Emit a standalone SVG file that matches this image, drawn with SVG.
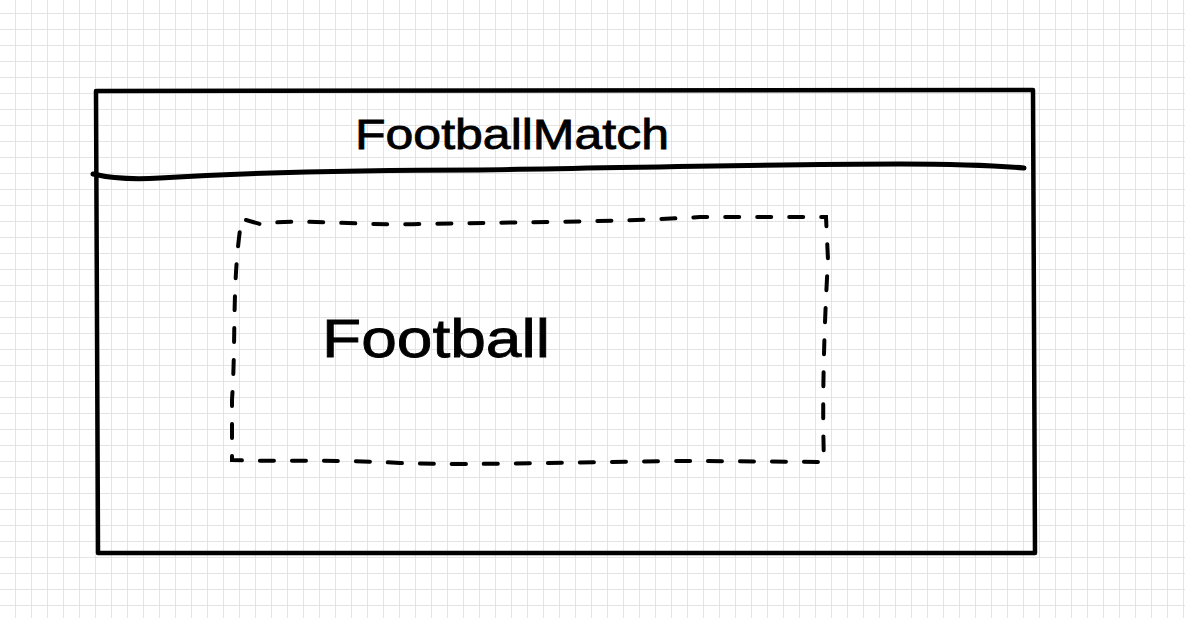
<svg xmlns="http://www.w3.org/2000/svg" width="1185" height="618" viewBox="0 0 1185 618">
  <defs>
    <pattern id="grid" x="15" y="13" width="16" height="16" patternUnits="userSpaceOnUse">
      <path d="M0 0 H16 M0 0 V16" fill="none" stroke="#dcdcdc" stroke-width="1.5"/>
    </pattern>
  </defs>
  <style>
    .solid { fill: none; stroke: #000; stroke-width: 4.5; stroke-linecap: round; stroke-linejoin: round; }
    .dash { fill: none; stroke: #000; stroke-width: 4; stroke-linecap: round; stroke-dasharray: 14 18; }
    .label { font-family: "Liberation Sans", Arial, sans-serif; fill: #000; stroke: #000; stroke-width: 0.8; }
  </style>
  <rect width="1185" height="618" fill="#ffffff"/>
  <rect width="1185" height="618" fill="url(#grid)"/>
  <g id="FootballMatch">
    <path class="solid" d="M96 91 L1033 90 L1035 553 L98 553 Z"/>
    <path class="solid" d="M93 174 C110 178 130 180 160 178 C260 172 380 170 480 170 C620 168 760 164 900 164 C960 164 1000 166 1024 168" style="stroke-width:5"/>
    <text class="label" x="355" y="149" font-size="42" textLength="314" lengthAdjust="spacingAndGlyphs">FootballMatch</text>
  </g>
  <g id="Football">
    <path class="dash" d="M246 220 L260 224 C300 218 360 226 420 224 C520 222 620 222 700 217 L826 217 L828 260 C824 330 822 400 824 462 L700 461 C600 461 480 466 400 463 C330 459 280 462 232 460 L232 400 C236 340 232 290 240 230 Z"/>
    <text class="label" x="322" y="357" font-size="54" textLength="228" lengthAdjust="spacingAndGlyphs">Football</text>
  </g>
  <g id="connectors"/>
</svg>
